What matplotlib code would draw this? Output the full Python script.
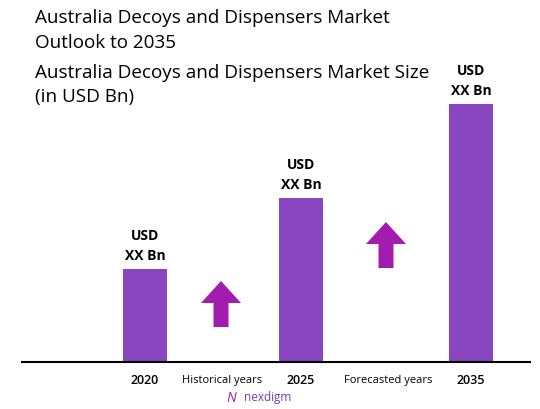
import matplotlib
matplotlib.use("Agg")
import matplotlib.pyplot as plt
from matplotlib.patches import FancyArrow

years = ["2020", "2025", "2035"]
values = [93, 164, 258]
bar_labels = ["USD\nXX Bn", "USD\nXX Bn", "USD\nXX Bn"]
period_labels = ["Historical years", "Forecasted years"]

plt.rcParams['font.family'] = ['Open Sans', 'DejaVu Sans']
fig = plt.figure(figsize=(5.4, 4.09), dpi=100)
ax = fig.add_axes([0, 47/409, 1, 362/409])
ax.set_xlim(0, 540)
ax.set_ylim(0, 362)
ax.axis('off')

xpos = [145, 301, 471]
ax.bar(xpos, values, width=44, color='#8a45c0', zorder=2)
for x, v, l in zip(xpos, values, bar_labels):
    ax.text(x, v + 6, l, ha='center', va='bottom', fontsize=10, fontweight='bold',
            linespacing=1.55)
ax.plot([22, 530], [0, 0], color='black', lw=1.5, clip_on=False)

for x, y in [(221, 35), (386, 94)]:
    ax.add_patch(FancyArrow(x, y, 0, 46, width=15, head_width=40, head_length=22,
                            length_includes_head=True, color='#a21caf', lw=0, zorder=3))

for x, l in zip(xpos, years):
    ax.text(x, -19, l, ha='center', va='center', fontsize=9, fontweight='semibold')
for x, l in zip([222, 388], period_labels):
    ax.text(x, -19, l, ha='center', va='center', fontsize=8)

for y, s in [(18, "Australia Decoys and Dispensers Market"), (43, "Outlook to 2035"),
             (73, "Australia Decoys and Dispensers Market Size"), (97, "(in USD Bn)")]:
    fig.text(35/540, 1 - y/409, s, fontsize=13.6, va='center')
fig.text(268/540, 1 - 398/409, "nexdigm", fontsize=8.5, color='#7a3fb0', ha='center', va='center')
fig.text(231/540, 1 - 398/409, "N", fontsize=10, color='#b01a9f', ha='center', va='center', style='italic')

fig.savefig("out.png", dpi=100)
